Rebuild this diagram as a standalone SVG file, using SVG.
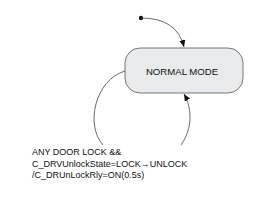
<svg xmlns="http://www.w3.org/2000/svg" width="268" height="202" viewBox="0 0 268 202">
<style>
.lbl{font-family:"Liberation Sans",Arial,sans-serif;font-size:9px;fill:#111}
.edge{fill:none;stroke:#444;stroke-width:0.8}
</style>
<defs>
<marker id="ah" markerWidth="8" markerHeight="8" refX="7" refY="4" orient="auto" markerUnits="userSpaceOnUse">
<path d="M0,1 L7,4 L0,7 Z" fill="#111"/>
</marker>
</defs>
<rect width="268" height="202" fill="#fff"/>
<g id="normal_mode">
<rect x="125" y="48" width="118" height="45" rx="15" fill="#e8eaeb" stroke="#555" stroke-width="0.8"/>
<text class="lbl" x="182" y="74.5" text-anchor="middle" style="font-size:9.6px">NORMAL MODE</text>
</g>
<g id="initial">
<circle cx="141" cy="18" r="2.2" fill="#111"/>
</g>
<g id="connectors">
<path class="edge" d="M141,18 Q177,18 184,47" marker-end="url(#ah)"/>
<path class="edge" d="M125,71 C95,80 85,125 103,145"/>
<path class="edge" d="M181,145 C193,128 192,108 184,94" marker-end="url(#ah)"/>
</g>
<g id="label">
<text class="lbl" x="32" y="155">ANY DOOR LOCK &amp;&amp;</text>
<text class="lbl" x="32" y="166.5">C_DRVUnlockState=LOCK→UNLOCK</text>
<text class="lbl" x="32" y="178">/C_DRUnLockRly=ON(0.5s)</text>
</g>
</svg>
